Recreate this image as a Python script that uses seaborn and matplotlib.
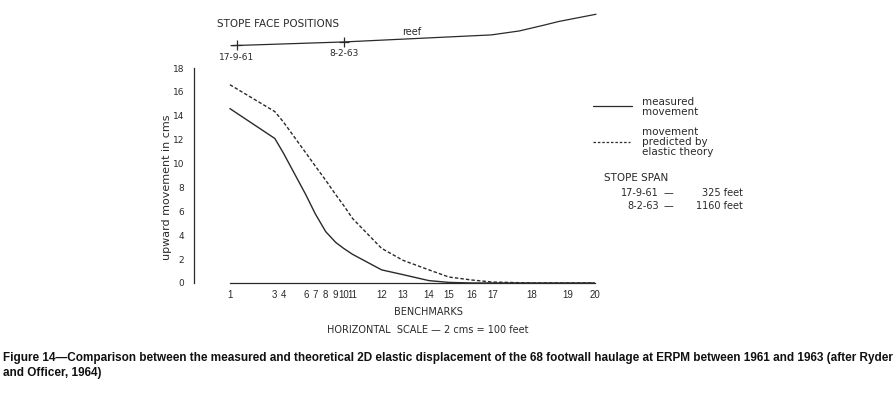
import numpy as np
import pandas as pd
import matplotlib
matplotlib.use("Agg")
import matplotlib.pyplot as plt
from matplotlib.lines import Line2D
import seaborn as sns

benchmarks = [1, 3, 4, 6, 7, 8, 9, 10, 11, 12, 13, 14, 15, 16, 17, 18, 19, 20]
distance_ft = [0, 351, 417, 593, 667, 749, 827, 889, 959, 1186, 1353, 1556, 1712, 1892, 2051, 2363, 2644, 2851]

# upward movement in cms
measured = [14.6, 12.1, 10.9, 7.4, 5.8, 4.3, 3.4, 2.9, 2.4, 1.1, 0.7, 0.2, 0.05, 0, 0, 0, 0, 0]
predicted = [16.6, 14.35, 13.5, 10.9, 9.8, 8.6, 7.4, 6.5, 5.4, 2.9, 1.9, 1.1, 0.5, 0.25, 0.08, 0, 0, 0]

# reef trace with the stope face positions, drawn above the plot
reef_ft = [8, 889, 2044, 2262, 2441, 2574, 2863]
reef_level = [19.87, 20.18, 20.77, 21.1, 21.55, 21.9, 22.5]
face_ft = [55, 889]
face_dates = ["17-9-61", "8-2-63"]

span_dates = ["17-9-61", "8-2-63"]
span_feet = ["325 feet", "1160 feet"]

caption = ["Figure 14\u2014Comparison between the measured and theoretical 2D elastic displacement of the 68 footwall haulage at ERPM between 1961 and 1963 (after Ryder",
           "and Officer, 1964)"]

W, H = 896, 399
ink = "#2a2a2a"

sns.set_style("white")
plt.rcParams["font.family"] = ["DejaVu Sans"]
narrow = ["Liberation Sans Narrow", "Liberation Sans", "DejaVu Sans"]

fig = plt.figure(figsize=(W / 100, H / 100), dpi=100)
ax = fig.add_axes([194 / W, 1 - 283 / H, (600 - 194) / W, (283 - 68) / H])

df = pd.DataFrame({
    "distance": distance_ft * 2,
    "movement": measured + predicted,
    "series": ["measured"] * len(measured) + ["predicted"] * len(predicted),
})
sns.lineplot(data=df, x="distance", y="movement", style="series",
             dashes={"measured": "", "predicted": (2.5, 1.5)},
             color=ink, lw=1.0, legend=False, ax=ax)

ax.set_xlim(-281, 2894)
ax.set_ylim(0, 18)
for s in ["top", "right"]:
    ax.spines[s].set_visible(False)
ax.spines["left"].set_bounds(0, 18)
ax.spines["bottom"].set_bounds(distance_ft[0], distance_ft[-1])
for s in ["left", "bottom"]:
    ax.spines[s].set_color(ink)
    ax.spines[s].set_linewidth(0.9)

ax.set_xticks(distance_ft)
ax.set_xticklabels(benchmarks, family=narrow, fontsize=7)
ax.set_yticks(range(0, 19, 2))
ax.tick_params(axis="x", direction="in", length=3, width=0.8, pad=5, colors=ink)
ax.tick_params(axis="y", direction="out", length=3, width=0.8, pad=4, labelsize=6.5, colors=ink)
ax.set_xlabel("")
ax.set_ylabel("upward movement in cms", fontsize=8, color=ink)
ax.yaxis.set_label_coords(-22 / 406, (283 - 187) / 215)

# reef and stope faces
ax.plot(reef_ft, reef_level, color=ink, lw=0.9, clip_on=False)
face_y = np.interp(face_ft, reef_ft, reef_level)
ax.plot(face_ft, face_y, ls="none", marker="|", ms=7, mew=0.9, color=ink, clip_on=False)
ax.plot(face_ft, face_y, ls="none", marker="_", ms=7, mew=0.9, color=ink, clip_on=False)
for fx, fy, lab in zip(face_ft, face_y, face_dates):
    ax.text(fx, fy - 1.0, lab, ha="center", va="center", fontsize=6.5, color=ink, clip_on=False)

fig.text(217 / W, 1 - 24 / H, "STOPE FACE POSITIONS", fontsize=7.5, color=ink, va="center")
fig.text(412 / W, 1 - 32 / H, "reef", fontsize=7, color=ink, va="center", ha="center")

# legend drawn by hand
fig.add_artist(Line2D([593 / W, 632 / W], [1 - 106 / H] * 2, color=ink, lw=0.9))
fig.add_artist(Line2D([593 / W, 630 / W], [1 - 142 / H] * 2, color=ink, lw=0.9, dashes=(2, 1.5)))
fig.text(642 / W, 1 - 107 / H, "measured\nmovement", fontsize=7.5, color=ink, va="center", linespacing=1.0)
fig.text(642 / W, 1 - 142 / H, "movement\npredicted by\nelastic theory", fontsize=7.5, color=ink,
         va="center", linespacing=1.0)
fig.text(604 / W, 1 - 178 / H, "STOPE SPAN", fontsize=7.5, color=ink, va="center")
for i, (d, f) in enumerate(zip(span_dates, span_feet)):
    yy = 1 - (193 + 13 * i) / H
    fig.text(659 / W, yy, d, fontsize=7, color=ink, va="center", ha="right")
    fig.text(668 / W, yy, "\u2014", fontsize=7, color=ink, va="center", ha="center")
    fig.text(743 / W, yy, f, fontsize=7, color=ink, va="center", ha="right")

fig.text(428 / W, 1 - 312 / H, "BENCHMARKS", fontsize=7, color=ink, va="center", ha="center")
fig.text(428 / W, 1 - 330 / H, "HORIZONTAL  SCALE \u2014 2 cms = 100 feet", fontsize=7, color=ink,
         va="center", ha="center")

# caption, scaled to span the page width
c1 = fig.text(3 / W, 1 - 358 / H, caption[0], fontsize=9, family=narrow, fontweight="bold",
              color="#111", va="center")
c2 = fig.text(3 / W, 1 - 373 / H, caption[1], fontsize=9, family=narrow, fontweight="bold",
              color="#111", va="center")
fig.canvas.draw()
wpx = c1.get_window_extent().width
size = 9 * 890 / wpx
c1.set_fontsize(size)
c2.set_fontsize(size)

fig.savefig("out.png", dpi=100)
